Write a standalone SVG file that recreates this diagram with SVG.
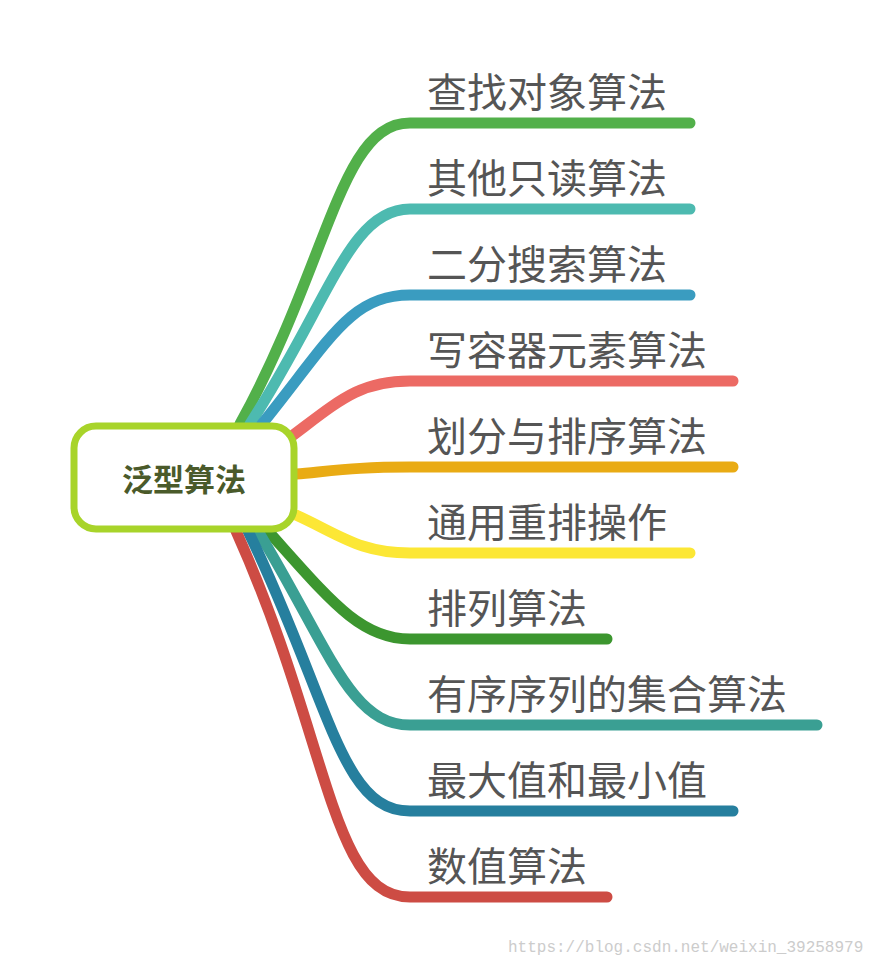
<svg xmlns="http://www.w3.org/2000/svg" width="890" height="966" viewBox="0 0 890 966">
<style>
.b{fill:none;stroke-width:11;stroke-linecap:round}
.t{font-family:"Noto Sans CJK SC","Noto Sans",sans-serif;font-size:40px;fill:#555}
</style>
<rect width="890" height="966" fill="#fff"/>
<g id="connectors">
<path class="b" stroke="#52b04a" d="M240,424 C330,260 340,123 410,123 H690"/>
<path class="b" stroke="#4dbab0" d="M250,424 C330,300 350,209 410,209 H690"/>
<path class="b" stroke="#3a9cc0" d="M262,424 C330,340 350,295 410,295 H690"/>
<path class="b" stroke="#ec6a64" d="M292,436 C340,400 360,381 410,381 H733"/>
<path class="b" stroke="#e9ab14" d="M296,474 C340,470 360,467 410,467 H733"/>
<path class="b" stroke="#fce735" d="M296,515 C340,535 360,553 410,553 H690"/>
<path class="b" stroke="#3c962f" d="M268,531 C330,600 360,639 410,639 H607"/>
<path class="b" stroke="#3a9f93" d="M258,531 C330,650 350,725 410,725 H817"/>
<path class="b" stroke="#267f9e" d="M248,531 C330,700 340,811 410,811 H733"/>
<path class="b" stroke="#cd4c44" d="M236,531 C330,740 330,897 410,897 H607"/>
</g>
<g id="center">
<rect x="74" y="426" width="220" height="103" rx="22" fill="#fff" stroke="#a8d42a" stroke-width="7"/>
<text x="184" y="491" text-anchor="middle" font-family="Noto Sans CJK SC,sans-serif" font-weight="bold" font-size="31" fill="#4a5a2a">泛型算法</text>
</g>
<g id="labels">
<text class="t" x="427" y="107">查找对象算法</text>
<text class="t" x="427" y="193">其他只读算法</text>
<text class="t" x="427" y="279">二分搜索算法</text>
<text class="t" x="427" y="365">写容器元素算法</text>
<text class="t" x="427" y="451">划分与排序算法</text>
<text class="t" x="427" y="537">通用重排操作</text>
<text class="t" x="427" y="623">排列算法</text>
<text class="t" x="427" y="709">有序序列的集合算法</text>
<text class="t" x="427" y="795">最大值和最小值</text>
<text class="t" x="427" y="881">数值算法</text>
</g>
<text x="508" y="952" font-family="Liberation Mono,monospace" font-size="16" fill="#ccc">https://blog.csdn.net/weixin_39258979</text>
</svg>
